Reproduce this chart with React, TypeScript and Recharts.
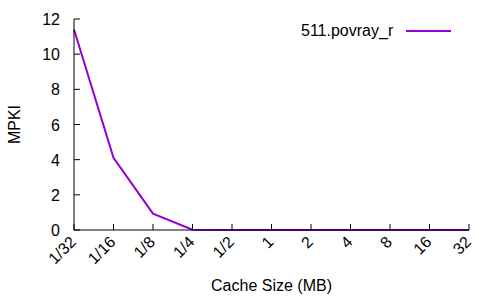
import React from 'react';
import { LineChart, Line, XAxis, YAxis } from 'recharts';

const cacheSizes = ['1/32', '1/16', '1/8', '1/4', '1/2', '1', '2', '4', '8', '16', '32'];
const povrayMpki = [11.4, 4.1, 0.93, 0.02, 0, 0, 0, 0, 0, 0, 0];
const yTicks = [0, 2, 4, 6, 8, 10, 12];

const data = cacheSizes.map((size, i) => ({ size, mpki: povrayMpki[i] }));

const FONT = 'Liberation Sans, Arial, sans-serif';
const PURPLE = '#9400d3';

const BottomTick = (props: any) => {
  const { x, y, payload } = props;
  const tx = x + 3;
  const ty = y + 13;
  return (
    <g>
      <line x1={x} y1={y} x2={x} y2={y - 6} stroke="#000" />
      <text
        x={tx}
        y={ty}
        textAnchor="end"
        fontSize={16}
        fontFamily={FONT}
        fill="#000"
        transform={`rotate(-45, ${tx}, ${ty})`}
      >
        {payload.value}
      </text>
    </g>
  );
};

const TopTick = (props: any) => {
  const { x, y } = props;
  return <line x1={x} y1={y} x2={x} y2={y + 6} stroke="#000" />;
};

const LeftTick = (props: any) => {
  const { x, y, payload } = props;
  return (
    <g>
      <line x1={x} y1={y} x2={x + 6} y2={y} stroke="#000" />
      <text x={x - 14} y={y + 6} textAnchor="end" fontSize={16} fontFamily={FONT} fill="#000">
        {payload.value}
      </text>
    </g>
  );
};

const RightTick = (props: any) => {
  const { x, y } = props;
  return <line x1={x} y1={y} x2={x - 6} y2={y} stroke="#000" />;
};

export default function App() {
  return (
    <div style={{ position: 'absolute', left: 0, top: 0, background: '#fff' }}>
      <LineChart width={500} height={300} data={data} margin={{ top: 19, right: 31, bottom: 0, left: 0 }}>
        <XAxis
          dataKey="size"
          xAxisId="bottom"
          height={70}
          tickSize={0}
          tickMargin={0}
          tickLine={false}
          interval={0}
          stroke="#000"
          tick={<BottomTick />}
          label={{ value: 'Cache Size (MB)', position: 'insideBottom', offset: 9, fontSize: 16, fontFamily: FONT, fill: '#000' }}
        />
        <XAxis
          dataKey="size"
          xAxisId="top"
          orientation="top"
          height={0}
          tickSize={0}
          tickMargin={0}
          tickLine={false}
          interval={0}
          stroke="#000"
          tick={<TopTick />}
        />
        <YAxis
          yAxisId="left"
          width={74}
          domain={[0, 12]}
          ticks={yTicks}
          tickSize={0}
          tickMargin={0}
          tickLine={false}
          stroke="#000"
          tick={<LeftTick />}
          label={{ value: 'MPKI', angle: -90, position: 'insideLeft', offset: 14, fontSize: 16, fontFamily: FONT, fill: '#000', style: { textAnchor: 'middle' } }}
        />
        <YAxis
          yAxisId="right"
          orientation="right"
          width={0}
          domain={[0, 12]}
          ticks={yTicks}
          tickSize={0}
          tickMargin={0}
          tickLine={false}
          stroke="#000"
          tick={<RightTick />}
        />
        <Line
          xAxisId="bottom"
          yAxisId="left"
          type="linear"
          dataKey="mpki"
          stroke={PURPLE}
          strokeWidth={2}
          dot={false}
          isAnimationActive={false}
        />
      </LineChart>
      <div
        style={{
          position: 'absolute',
          top: 22,
          left: 301,
          display: 'flex',
          alignItems: 'center',
          fontFamily: FONT,
          fontSize: 16,
          lineHeight: '18px',
        }}
      >
        <span>511.povray_r</span>
        <span style={{ display: 'inline-block', width: 45, height: 2, background: PURPLE, marginLeft: 13 }} />
      </div>
    </div>
  );
}
